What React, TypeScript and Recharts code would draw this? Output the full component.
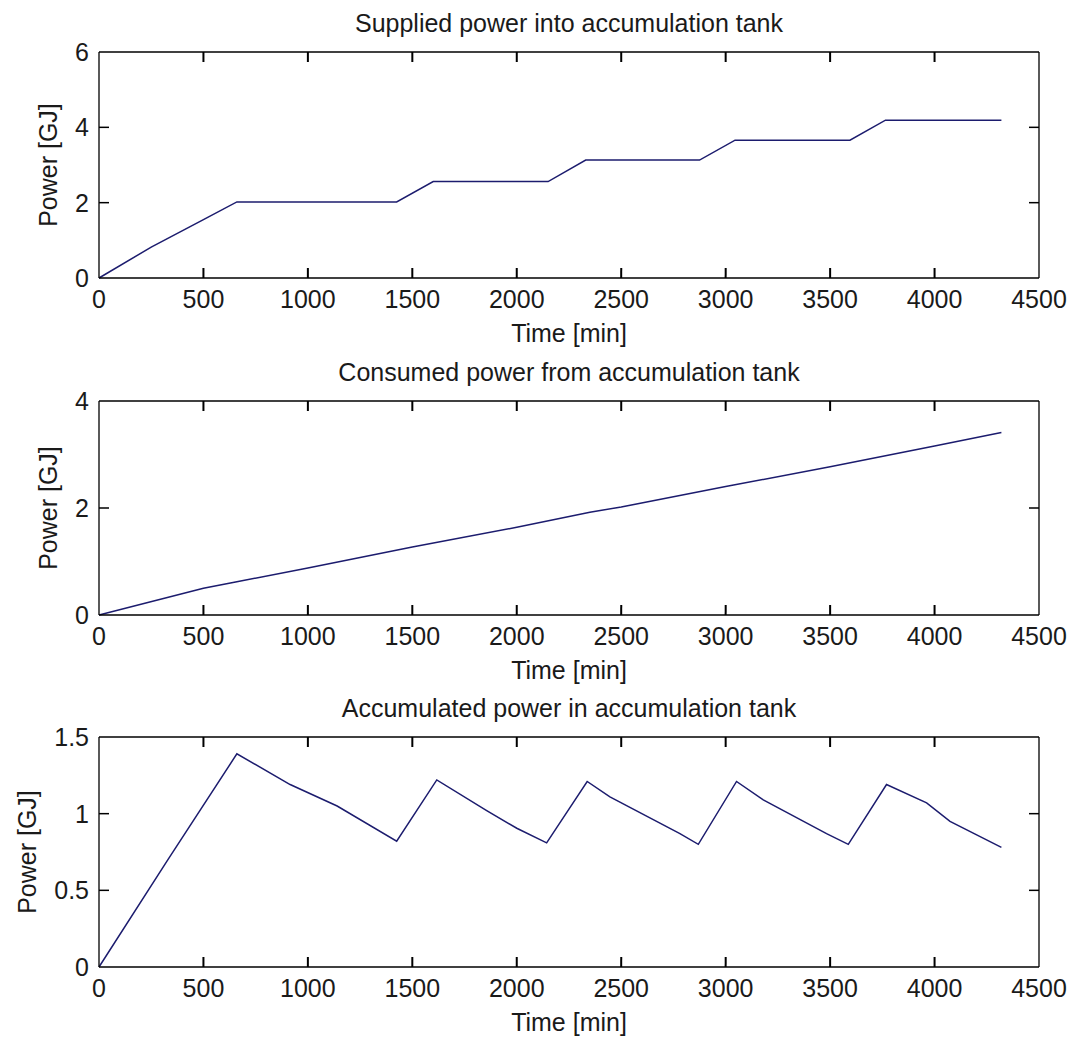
import { LineChart, Line, XAxis, YAxis, ReferenceLine } from "recharts";

// time axis shared by all three panels
const timeTicks = [0, 500, 1000, 1500, 2000, 2500, 3000, 3500, 4000, 4500];

// supplied power into accumulation tank
const suppliedTime = [0, 250, 500, 660, 1425, 1600, 2150, 2330, 2875, 3045, 3595, 3765, 4320];
const suppliedPower = [0, 0.82, 1.55, 2.02, 2.02, 2.56, 2.56, 3.13, 3.13, 3.66, 3.66, 4.19, 4.19];

// consumed power from accumulation tank
const consumedTime = [0, 500, 660, 1000, 1500, 2000, 2350, 2500, 3000, 3500, 4000, 4320];
const consumedPower = [0, 0.5, 0.62, 0.88, 1.27, 1.64, 1.92, 2.02, 2.4, 2.77, 3.16, 3.41];

// accumulated power in accumulation tank
const accTime = [0, 330, 660, 915, 1140, 1425, 1617, 1856, 2000, 2143, 2337, 2446, 2781, 2869, 3052, 3180, 3483, 3587, 3770, 3962, 4074, 4320];
const accPower = [0, 0.7, 1.39, 1.19, 1.05, 0.82, 1.22, 1.02, 0.905, 0.81, 1.21, 1.11, 0.87, 0.8, 1.21, 1.09, 0.87, 0.8, 1.19, 1.07, 0.95, 0.78];

const FONT = '"Liberation Sans", Arial, sans-serif';
const TEXT = "#1a1a1a";
const LINE = "#1c1c6e";
const TICK = 10; // inward tick length, px
const BOX_W = 940; // plot box width, px

const toRows = (t: number[], v: number[]) => t.map((x, i) => ({ t: x, v: v[i] }));

function BottomLabel(props: any) {
  return (
    <text x={props.x} y={props.y} dy="0.71em" textAnchor="middle" fill={TEXT} fontSize={25} fontFamily={FONT}>
      {props.payload.value}
    </text>
  );
}

function LeftLabel(props: any) {
  return (
    <text x={props.x} y={props.y} dy="0.36em" textAnchor="end" fill={TEXT} fontSize={25} fontFamily={FONT}>
      {props.payload.value}
    </text>
  );
}

type PanelProps = {
  title: string;
  rows: { t: number; v: number }[];
  yDomain: [number, number];
  yTicks: number[];
  top: number;
  height: number;
  boxTop: number;
  boxBottom: number;
  yLabelX: number;
};

function Panel({ title, rows, yDomain, yTicks, top, height, boxTop, boxBottom, yLabelX }: PanelProps) {
  const axisLine = { stroke: "#000", strokeWidth: 1.3 };
  const [y0, y1] = yDomain;
  // tick lengths in data units, so the marks go through the chart scales
  const dy = ((y1 - y0) * TICK) / (boxBottom - boxTop);
  const dx = (4500 * TICK) / BOX_W;
  const innerX = timeTicks.slice(1, -1);
  const innerY = yTicks.slice(1, -1);
  return (
    <div style={{ position: "absolute", left: 0, top, width: 1073, height }}>
      <LineChart width={1073} height={height} data={rows} margin={{ top: 0, right: 0, bottom: 0, left: 0 }}>
        <XAxis
          dataKey="t"
          type="number"
          domain={[0, 4500]}
          ticks={timeTicks}
          interval={0}
          height={height - boxBottom}
          axisLine={axisLine}
          tickLine={false}
          tickSize={0}
          tickMargin={12}
          tick={BottomLabel}
          label={{ value: "Time [min]", position: "insideTop", offset: 46, fill: TEXT, fontSize: 25, fontFamily: FONT }}
        />
        <XAxis
          xAxisId="top"
          orientation="top"
          type="number"
          domain={[0, 4500]}
          ticks={timeTicks}
          height={boxTop}
          axisLine={axisLine}
          tickLine={false}
          tick={false}
          label={{ value: title, position: "insideBottom", offset: 20, fill: TEXT, fontSize: 25, fontFamily: FONT }}
        />
        <YAxis
          type="number"
          domain={yDomain}
          ticks={yTicks}
          interval={0}
          width={99}
          axisLine={axisLine}
          tickLine={false}
          tickSize={0}
          tickMargin={10}
          tick={LeftLabel}
          label={{
            value: "Power [GJ]",
            angle: -90,
            position: "insideLeft",
            offset: yLabelX,
            fill: TEXT,
            fontSize: 25,
            fontFamily: FONT,
            style: { textAnchor: "middle" },
          }}
        />
        <YAxis
          yAxisId="right"
          orientation="right"
          type="number"
          domain={yDomain}
          ticks={yTicks}
          width={34}
          axisLine={axisLine}
          tickLine={false}
          tick={false}
        />
        {innerX.map((t) => (
          <ReferenceLine
            key={`b${t}`}
            segment={[{ x: t - 0.01, y: y0 }, { x: t + 0.01, y: y0 + dy }]}
            stroke="#000"
            strokeWidth={2}
            ifOverflow="extendDomain"
          />
        ))}
        {innerX.map((t) => (
          <ReferenceLine
            key={`t${t}`}
            segment={[{ x: t - 0.01, y: y1 }, { x: t + 0.01, y: y1 - dy }]}
            stroke="#000"
            strokeWidth={2}
            ifOverflow="extendDomain"
          />
        ))}
        {innerY.map((v) => (
          <ReferenceLine key={`l${v}`} segment={[{ x: 0, y: v }, { x: dx, y: v }]} stroke="#000" strokeWidth={1.5} />
        ))}
        {innerY.map((v) => (
          <ReferenceLine key={`r${v}`} segment={[{ x: 4500, y: v }, { x: 4500 - dx, y: v }]} stroke="#000" strokeWidth={1.5} />
        ))}
        <Line type="linear" dataKey="v" stroke={LINE} strokeWidth={1.5} dot={false} isAnimationActive={false} />
      </LineChart>
    </div>
  );
}

export default function App() {
  return (
    <div style={{ position: "absolute", left: 0, top: 0, width: 1073, height: 1039, background: "#fff" }}>
      <Panel
        title="Supplied power into accumulation tank"
        rows={toRows(suppliedTime, suppliedPower)}
        yDomain={[0, 6]}
        yTicks={[0, 2, 4, 6]}
        top={0}
        height={350}
        boxTop={52}
        boxBottom={278}
        yLabelX={48}
      />
      <Panel
        title="Consumed power from accumulation tank"
        rows={toRows(consumedTime, consumedPower)}
        yDomain={[0, 4]}
        yTicks={[0, 2, 4]}
        top={340}
        height={350}
        boxTop={61}
        boxBottom={275}
        yLabelX={48}
      />
      <Panel
        title="Accumulated power in accumulation tank"
        rows={toRows(accTime, accPower)}
        yDomain={[0, 1.5]}
        yTicks={[0, 0.5, 1, 1.5]}
        top={680}
        height={359}
        boxTop={57}
        boxBottom={287}
        yLabelX={27}
      />
    </div>
  );
}
